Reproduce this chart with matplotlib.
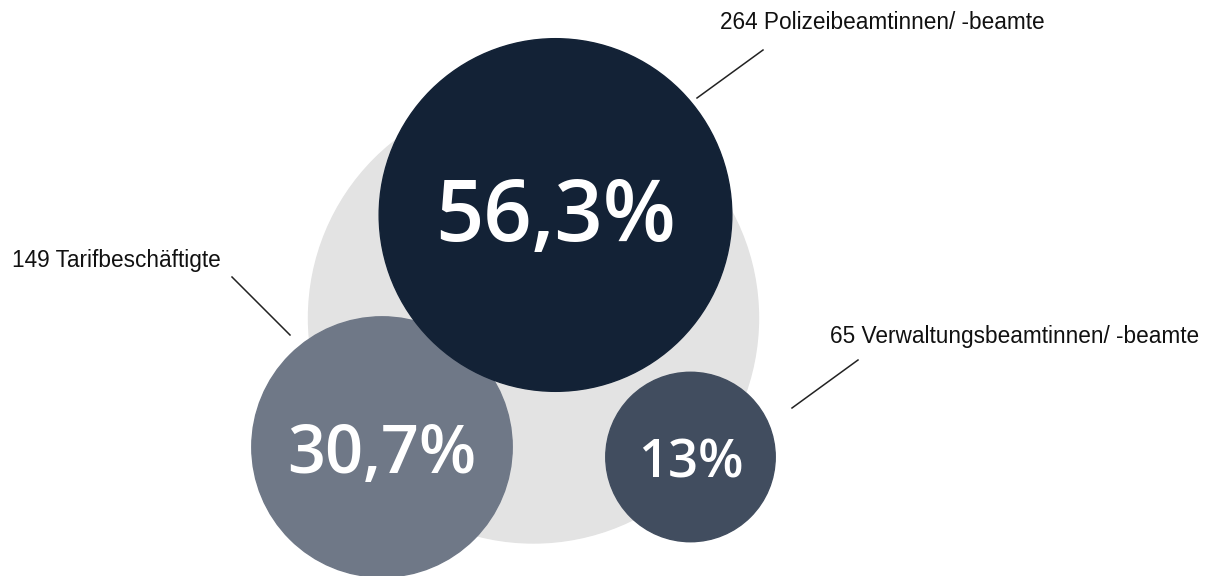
import numpy as np
import matplotlib
matplotlib.use("Agg")
import matplotlib.pyplot as plt
from matplotlib.patches import Circle

# share of staff per group (percent) and headcount
groups = ["Polizeibeamtinnen/ -beamte", "Tarifbeschäftigte", "Verwaltungsbeamtinnen/ -beamte"]
counts = [264, 149, 65]
shares = [56.3, 30.7, 13.0]
share_labels = ["56,3%", "30,7%", "13%"]

# layout (pixel coordinates, y downwards)
centers = [(555.5, 215), (382, 447), (690.5, 457)]
colors = ["#132236", "#6f7887", "#414d5f"]
font_sizes = [61, 48, 38]
pct_baselines = [241, 473, 477]
label_pos = [(720, 29), (12, 267), (830, 343)]
leader_lines = [((763, 50), (697, 98)), ((232, 277), (290, 335)), ((858, 360), (792, 408))]

# circle area proportional to share
scale = 23.5
radii = [scale * np.sqrt(s) for s in shares]

fig = plt.figure(figsize=(12.13, 5.76), dpi=100)
ax = fig.add_axes([0, 0, 1, 1])
ax.set_xlim(0, 1213)
ax.set_ylim(576, 0)
ax.set_aspect("equal")
ax.axis("off")

# big grey backdrop circle
ax.add_patch(Circle((533.5, 318), 225, color="#e3e3e3", zorder=1))

for i in range(len(shares)):
    ax.add_patch(Circle(centers[i], radii[i], color=colors[i], zorder=2 + (i == 0)))
    ax.text(centers[i][0], pct_baselines[i], share_labels[i],
            color="white", fontsize=font_sizes[i], fontfamily="Open Sans",
            fontweight="semibold", ha="center", va="baseline", zorder=5)

    x, y = label_pos[i]
    ax.text(x, y, f"{counts[i]} {groups[i]}", fontsize=16.3,
            fontfamily="Liberation Sans", color="#111111", ha="left", va="baseline")
    (x0, y0), (x1, y1) = leader_lines[i]
    ax.plot([x0, x1], [y0, y1], color="#222222", lw=1.1, zorder=6)

fig.savefig("out.png", dpi=100)
